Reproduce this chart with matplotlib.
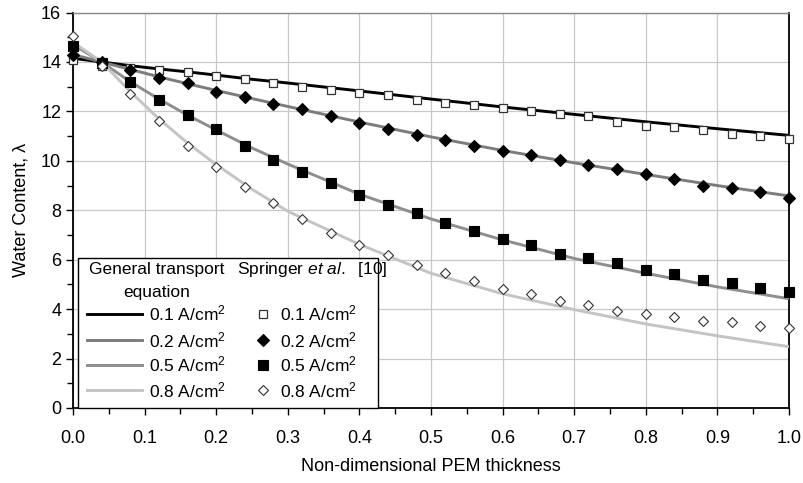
import matplotlib
matplotlib.use("Agg")
import matplotlib.pyplot as plt
from matplotlib.lines import Line2D
from matplotlib.patches import Rectangle
from matplotlib.ticker import MultipleLocator

plt.rcParams['font.family'] = ['Liberation Sans', 'DejaVu Sans']
plt.rcParams['mathtext.fontset'] = 'custom'
plt.rcParams['mathtext.rm'] = 'Liberation Sans'
plt.rcParams['mathtext.it'] = 'Liberation Sans:italic'

# Springer et al. points
x_pts = [0.0, 0.04, 0.08, 0.12, 0.16, 0.2, 0.24, 0.28, 0.32, 0.36, 0.4, 0.44, 0.48,
         0.52, 0.56, 0.6, 0.64, 0.68, 0.72, 0.76, 0.8, 0.84, 0.88, 0.92, 0.96, 1.0]
sp01 = [14.1, 13.85, 13.74, 13.66, 13.58, 13.45, 13.33, 13.17, 13.0, 12.85, 12.73, 12.65, 12.48,
        12.36, 12.24, 12.12, 12.0, 11.88, 11.8, 11.56, 11.43, 11.35, 11.23, 11.1, 10.99, 10.87]
sp02 = [14.3, 14.0, 13.68, 13.37, 13.13, 12.8, 12.6, 12.3, 12.1, 11.8, 11.55, 11.3, 11.05,
        10.85, 10.6, 10.4, 10.25, 10.05, 9.85, 9.65, 9.45, 9.25, 9.0, 8.89, 8.73, 8.48]
sp05 = [14.65, 13.95, 13.18, 12.48, 11.84, 11.27, 10.6, 10.05, 9.55, 9.09, 8.6, 8.2, 7.87,
        7.5, 7.15, 6.82, 6.58, 6.25, 6.05, 5.85, 5.57, 5.44, 5.16, 5.06, 4.84, 4.68]
sp08 = [15.05, 13.85, 12.69, 11.6, 10.6, 9.75, 8.95, 8.3, 7.65, 7.1, 6.59, 6.18, 5.78,
        5.45, 5.13, 4.81, 4.6, 4.32, 4.16, 3.92, 3.8, 3.68, 3.52, 3.47, 3.31, 3.23]

# general transport equation curves
x_line = [0.0, 0.04, 0.08, 0.12, 0.16, 0.2, 0.25, 0.3, 0.4, 0.5, 0.6, 0.7, 0.8, 0.9, 1.0]
gt01 = [14.15, 14.0, 13.85, 13.72, 13.6, 13.47, 13.3, 13.15, 12.83, 12.5, 12.18, 11.88, 11.58, 11.3, 11.03]
gt02 = [14.3, 14.0, 13.7, 13.4, 13.12, 12.85, 12.52, 12.2, 11.57, 10.97, 10.42, 9.92, 9.45, 9.0, 8.58]
gt05 = [14.7, 14.0, 13.2, 12.5, 11.85, 11.25, 10.52, 9.87, 8.65, 7.65, 6.8, 6.05, 5.45, 4.9, 4.42]
gt08 = [14.8, 14.0, 12.8, 11.7, 10.72, 9.85, 8.85, 7.96, 6.62, 5.45, 4.62, 3.98, 3.4, 2.92, 2.48]

labels = ["0.1 A/cm$^2$", "0.2 A/cm$^2$", "0.5 A/cm$^2$", "0.8 A/cm$^2$"]
line_colors = ["#000000", "#7c7c7c", "#8e8e8e", "#c4c4c4"]
markers = [
    dict(marker="s", markersize=5.5, markerfacecolor="white", markeredgecolor="#333333", markeredgewidth=0.9),
    dict(marker="D", markersize=6.0, markerfacecolor="black", markeredgecolor="black", markeredgewidth=0.8),
    dict(marker="s", markersize=7.2, markerfacecolor="black", markeredgecolor="black", markeredgewidth=0.8),
    dict(marker="D", markersize=5.4, markerfacecolor="white", markeredgecolor="#333333", markeredgewidth=0.8),
]

fig = plt.figure(figsize=(8.04, 4.83), dpi=100)
ax = fig.add_axes([0.0908, 0.1553, 0.8905, 0.8187])

for y, c in zip([gt01, gt02, gt05, gt08], line_colors):
    ax.plot(x_line, y, color=c, linewidth=2.1, zorder=3, solid_capstyle="butt")
for y, m in zip([sp01, sp02, sp05, sp08], markers):
    ax.plot(x_pts, y, linestyle="none", zorder=4, clip_on=False, **m)

ax.set_xlim(0, 1.0)
ax.set_ylim(0, 16)
ax.xaxis.set_major_locator(MultipleLocator(0.1))
ax.xaxis.set_minor_locator(MultipleLocator(0.05))
ax.yaxis.set_major_locator(MultipleLocator(2))
ax.yaxis.set_minor_locator(MultipleLocator(1))
ax.xaxis.set_major_formatter(matplotlib.ticker.FormatStrFormatter("%.1f"))
ax.tick_params(which="both", direction="out", labelsize=13, width=1)
ax.tick_params(which="major", length=5)
ax.tick_params(which="minor", length=4)
ax.tick_params(axis="x", pad=11)
ax.grid(True, which="major", color="#c8c8c8", linewidth=0.9)
ax.set_axisbelow(True)
for s in ["left", "bottom", "right"]:
    ax.spines[s].set_linewidth(1.3)
    ax.spines[s].set_color("black")
ax.spines["top"].set_color("#888888")
ax.spines["top"].set_linewidth(1.0)

ax.set_xlabel("Non-dimensional PEM thickness", fontsize=13, labelpad=8)
ax.set_ylabel("Water Content, λ", fontsize=13, labelpad=8)

# legend box drawn by hand (two titled columns)
ax.add_patch(Rectangle((0.007, 0.0), 0.419, 0.379, transform=ax.transAxes,
                       facecolor="white", edgecolor="black", linewidth=1.0, zorder=6, clip_on=False))
fs = 12.5
ax.text(0.117, 0.349, "General transport", transform=ax.transAxes, ha="center", va="center",
        fontsize=fs, zorder=7)
ax.text(0.117, 0.293, "equation", transform=ax.transAxes, ha="center", va="center",
        fontsize=fs, zorder=7)
ax.text(0.229, 0.349, r"Springer $\it{et\ al.}$  [10]", transform=ax.transAxes, ha="left",
        va="center", fontsize=fs, zorder=7)
rows = [0.238, 0.172, 0.109, 0.0455]
for ry, lab, c, m in zip(rows, labels, line_colors, markers):
    ax.add_line(Line2D([0.0196, 0.0964], [ry, ry], transform=ax.transAxes, color=c,
                       linewidth=2.1, zorder=7))
    ax.text(0.106, ry, lab, transform=ax.transAxes, ha="left", va="center", fontsize=fs, zorder=7)
    ax.add_line(Line2D([0.265], [ry], transform=ax.transAxes, linestyle="none", zorder=7, **m))
    ax.text(0.289, ry, lab, transform=ax.transAxes, ha="left", va="center", fontsize=fs, zorder=7)

fig.savefig("out.png", dpi=100)
